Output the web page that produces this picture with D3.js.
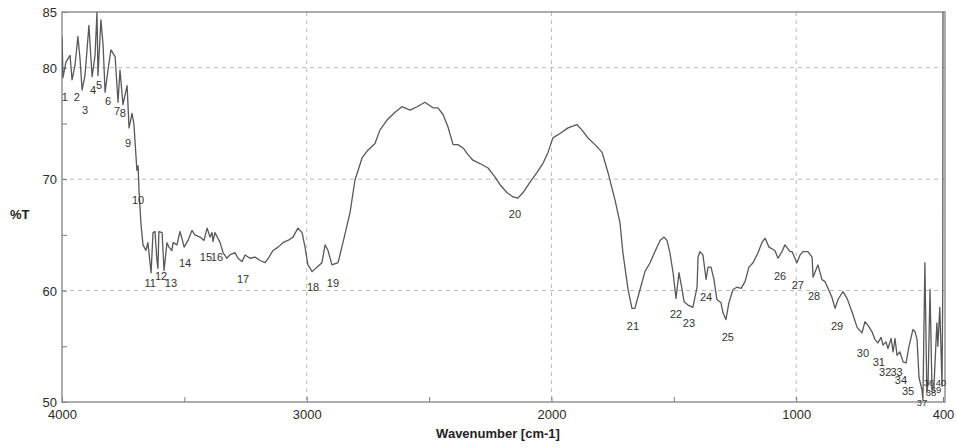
<!DOCTYPE html>
<html>
<head>
<meta charset="utf-8">
<script src="https://cdn.jsdelivr.net/npm/d3@7/dist/d3.min.js"></script>
<style>
  html, body { margin: 0; padding: 0; background: #fff; }
  svg { display: block; font-family: "Liberation Sans", Arial, sans-serif; }
</style>
</head>
<body>
<svg id="chart" width="957" height="448"></svg>
<script>
// FTIR spectrum: wavenumber (cm-1) and transmittance (%T)
const wavenumber = [
  4000, 3996, 3984, 3967, 3959, 3947, 3935, 3926, 3918, 3906, 3890, 3877, 3865, 3857, 3853, 3841,
  3832, 3824, 3812, 3800, 3783, 3771, 3763, 3751, 3734, 3726, 3714, 3706, 3694, 3689, 3685, 3677,
  3669, 3657, 3649, 3636, 3628, 3620, 3612, 3608, 3604, 3591, 3583, 3571, 3563, 3551, 3546, 3530,
  3518, 3510, 3501, 3485, 3469, 3457, 3436, 3420, 3407, 3395, 3387, 3383, 3375, 3363, 3354, 3342,
  3326, 3314, 3293, 3281, 3264, 3252, 3232, 3211, 3191, 3170, 3154, 3138, 3117, 3097, 3077, 3056,
  3036, 3019, 3007, 2995, 2978, 2958, 2938, 2925, 2913, 2897, 2872, 2852, 2823, 2803, 2774, 2750,
  2721, 2701, 2672, 2639, 2611, 2578, 2549, 2517, 2504, 2484, 2464, 2443, 2423, 2402, 2382, 2361,
  2341, 2321, 2292, 2259, 2231, 2210, 2182, 2157, 2137, 2116, 2088, 2059, 2035, 2014, 1994, 1965,
  1932, 1896, 1875, 1851, 1822, 1793, 1769, 1740, 1720, 1708, 1687, 1671, 1659, 1638, 1618, 1597,
  1577, 1556, 1540, 1528, 1516, 1503, 1491, 1479, 1467, 1458, 1442, 1422, 1405, 1401, 1393, 1381,
  1368, 1360, 1348, 1336, 1324, 1307, 1299, 1287, 1275, 1258, 1242, 1225, 1209, 1193, 1176, 1156,
  1140, 1127, 1111, 1087, 1074, 1058, 1046, 1025, 1017, 997, 984, 972, 952, 935, 931, 915,
  911, 895, 882, 870, 854, 841, 829, 809, 792, 772, 751, 731, 719, 707, 690, 678,
  666, 653, 645, 633, 625, 612, 604, 596, 588, 576, 563, 551, 539, 523, 514, 506,
  498, 486, 482, 474, 466, 461, 453, 445, 437, 425, 421, 413, 404, 401, 400
];
const transmittance = [
  82.8, 79.1, 80.5, 81.1, 78.9, 80.2, 82.8, 80.7, 78.0, 79.3, 83.8, 79.2, 81.1, 85.0, 79.3, 84.3,
  82.0, 77.8, 79.8, 81.6, 81.0, 76.9, 79.8, 76.7, 78.4, 74.6, 75.9, 74.9, 70.8, 71.2, 68.8, 65.9,
  64.1, 63.6, 64.3, 61.6, 65.2, 65.3, 62.7, 62.0, 65.3, 65.2, 61.8, 64.3, 63.9, 63.6, 64.3, 64.1,
  65.3, 64.7, 63.9, 64.5, 65.4, 65.0, 64.8, 64.5, 65.6, 64.8, 65.2, 64.4, 65.2, 64.7, 64.3, 63.4,
  62.9, 63.2, 63.4, 62.9, 62.6, 63.2, 62.9, 63.0, 62.7, 62.5, 63.0, 63.6, 63.9, 64.3, 64.5, 64.8,
  65.6, 65.2, 63.9, 62.3, 61.7, 62.1, 62.5, 64.1, 63.6, 62.3, 62.5, 64.3, 67.0, 69.9, 71.9, 72.6,
  73.2, 74.4, 75.3, 76.0, 76.5, 76.2, 76.5, 76.9, 76.7, 76.4, 76.4, 75.8, 74.7, 73.1, 73.1, 72.8,
  72.2, 71.7, 71.4, 71.0, 70.2, 69.5, 68.8, 68.4, 68.3, 68.8, 69.7, 70.6, 71.4, 72.4, 73.7, 74.1,
  74.6, 74.9, 74.4, 73.7, 73.1, 72.4, 70.6, 68.1, 66.1, 63.4, 60.1, 58.4, 58.4, 60.1, 61.7, 62.5,
  63.5, 64.5, 64.8, 64.5, 63.4, 61.6, 59.3, 61.6, 60.2, 59.0, 58.7, 58.5, 60.3, 63.0, 63.5, 63.2,
  61.0, 62.1, 62.1, 61.0, 59.2, 58.9, 58.0, 57.4, 58.9, 60.1, 60.3, 60.2, 60.8, 62.1, 62.5, 63.4,
  64.3, 64.7, 63.9, 63.6, 62.9, 63.5, 64.1, 63.5, 63.5, 62.5, 63.2, 63.5, 63.5, 63.0, 61.2, 62.1,
  62.3, 61.0, 60.8, 60.2, 59.4, 58.4, 59.2, 59.9, 59.3, 58.1, 56.7, 56.2, 57.2, 56.9, 56.3, 55.6,
  55.3, 55.8, 55.1, 55.4, 54.8, 55.7, 54.5, 55.7, 54.2, 54.5, 53.6, 53.5, 55.0, 56.5, 56.3, 55.6,
  52.2, 51.1, 50.2, 62.5, 50.8, 51.7, 60.1, 51.1, 51.4, 57.1, 55.0, 58.5, 51.4, 60.0, 86.0
];

// Numbered peak annotations: text and where each number sits (cm-1, %T)
const peakLabels = ["1","2","3","4","5","6","7","8","9","10","11","12","13","14","15","16","17","18","19","20",
  "21","22","23","24","25","26","27","28","29","30","31","32","33","34","35","36","37","38","39","40"];
const peakLabelWn = [3988, 3939, 3906, 3873, 3849, 3812, 3775, 3751, 3730, 3689, 3640, 3595, 3555, 3497, 3412, 3367,
  3260, 2974, 2893, 2149, 1667, 1491, 1438, 1368, 1279, 1066, 993, 927, 833, 727, 662, 636, 590, 572, 543,
  457, 486, 449, 429, 408];
const peakLabelT = [77.4, 77.4, 76.2, 78.0, 78.4, 77.0, 76.1, 75.9, 73.2, 68.1, 60.7, 61.3, 60.7, 62.5, 63.0, 63.0,
  61.0, 60.3, 60.7, 66.9, 56.8, 57.9, 57.1, 59.4, 55.8, 61.3, 60.5, 59.5, 56.8, 54.4, 53.6, 52.7, 52.7, 52.0, 51.0,
  51.7, 49.9, 50.8, 51.1, 51.7];

// Axis ticks
const xMajorTicks = [4000, 3000, 2000, 1000, 400];
const xMinorTicks = [3500, 2500, 1500];
const xGridLines = [3000, 2000, 1000];
const yLabelTicks = [85, 80, 70, 60, 50];
const yMinorTicks = [75, 65, 55];
const yGridLines = [80, 70, 60];

const svg = d3.select("#chart");
const plotLeft = 62, plotRight = 943, plotTop = 12, plotBottom = 402;

const x = d3.scaleLinear().domain([4000, 400]).range([plotLeft, plotRight]);
const y = d3.scaleLinear().domain([50, 85]).range([plotBottom, plotTop]);

// dashed grid
const grid = svg.append("g").attr("stroke", "#b9b9b9").attr("stroke-width", 1)
  .attr("stroke-dasharray", "4,4");
grid.selectAll("line.v").data(xGridLines).join("line").attr("class", "v")
  .attr("x1", d => x(d)).attr("x2", d => x(d)).attr("y1", plotTop).attr("y2", plotBottom);
grid.selectAll("line.h").data(yGridLines).join("line").attr("class", "h")
  .attr("x1", plotLeft).attr("x2", plotRight + 2).attr("y1", d => y(d)).attr("y2", d => y(d));

// bottom axis: labelled major ticks + unlabelled minor ticks (pointing inward)
const xAxis = svg.append("g").attr("transform", `translate(0,${plotBottom})`)
  .call(d3.axisBottom(x).tickValues(xMajorTicks).tickSize(-5).tickPadding(8).tickFormat(d3.format("d")));
const xMinor = svg.append("g").attr("transform", `translate(0,${plotBottom})`)
  .call(d3.axisBottom(x).tickValues(xMinorTicks).tickSize(-5).tickFormat(""));

// left axis
const yAxis = svg.append("g").attr("transform", `translate(${plotLeft},0)`)
  .call(d3.axisLeft(y).tickValues(yLabelTicks).tickSize(-5).tickPadding(5));
const yMinor = svg.append("g").attr("transform", `translate(${plotLeft},0)`)
  .call(d3.axisLeft(y).tickValues(yMinorTicks).tickSize(-5).tickFormat(""));

[xAxis, xMinor, yAxis, yMinor].forEach(g => {
  g.select(".domain").remove();
  g.selectAll(".tick line").attr("stroke", "#777");
  g.selectAll("text").attr("fill", "#2b2b2b").attr("font-size", 13)
    .attr("font-family", "'Liberation Sans', Arial, sans-serif");
});
yAxis.selectAll("text").attr("dy", "0.35em");

// frame
svg.append("rect").attr("x", plotLeft).attr("y", plotTop)
  .attr("width", plotRight + 2 - plotLeft).attr("height", plotBottom - plotTop)
  .attr("fill", "none").attr("stroke", "#8a8a8a").attr("stroke-width", 1.4);

// spectrum
svg.append("clipPath").attr("id", "plotClip").append("rect")
  .attr("x", plotLeft).attr("y", plotTop).attr("width", plotRight + 2 - plotLeft).attr("height", plotBottom - plotTop);
const spectrum = wavenumber.map((w, i) => [w, transmittance[i]]);
svg.append("path").datum(spectrum)
  .attr("clip-path", "url(#plotClip)")
  .attr("fill", "none").attr("stroke", "#585858").attr("stroke-width", 1.3)
  .attr("stroke-linejoin", "round")
  .attr("d", d3.line().x(d => x(d[0])).y(d => y(d[1])));

// peak numbers (the crowded group below 500 cm-1 uses a slightly smaller size)
svg.append("g").selectAll("text").data(peakLabels).join("text")
  .attr("x", (d, i) => x(peakLabelWn[i])).attr("y", (d, i) => y(peakLabelT[i]))
  .attr("text-anchor", "middle").attr("dy", "0.35em")
  .attr("font-size", (d, i) => peakLabelWn[i] < 500 ? 9.5 : 11).attr("fill", "#333")
  .text(d => d);

// axis titles
svg.append("text").attr("x", 498).attr("y", 438).attr("text-anchor", "middle")
  .attr("font-size", 13).attr("font-weight", "bold").attr("fill", "#222")
  .text("Wavenumber [cm-1]");
svg.append("text").attr("x", 10).attr("y", 219)
  .attr("font-size", 13).attr("font-weight", "bold").attr("fill", "#222")
  .text("%T");
</script>
</body>
</html>
